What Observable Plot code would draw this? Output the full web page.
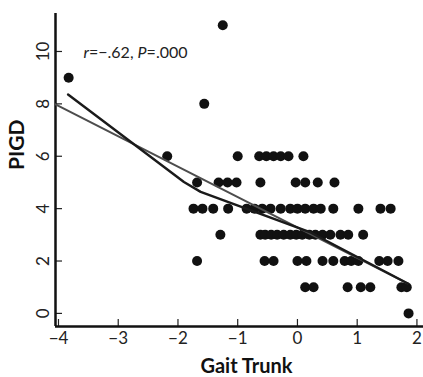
<!DOCTYPE html>
<html><head><meta charset="utf-8">
<script src="https://cdn.jsdelivr.net/npm/d3@7"></script>
<script src="https://cdn.jsdelivr.net/npm/@observablehq/plot@0.6"></script>
<style>
body{margin:0;background:#fff;}
#chart svg{font-family:Lato,"Open Sans",sans-serif;background:#fff;}
</style>
</head><body><div id="chart"></div>
<script>
// Scatter data: Gait Trunk (x) and PIGD (y)
const gaitTrunk = [
  -1.25,
  -3.83,
  -1.56,
  -2.18, -1.0, -0.64, -0.52, -0.40, -0.28, -0.15, 0.10,
  -1.68, -1.32, -1.17, -1.02, -0.62, -0.03, 0.13, 0.34, 0.62,
  -1.74, -1.59, -1.41, -1.16, -0.85, -0.72, -0.59, -0.45, -0.28, -0.12, 0.0, 0.13, 0.27, 0.39, 0.60, 1.02, 1.39, 1.56,
  -1.29, -0.62, -0.54, -0.44, -0.34, -0.23, -0.12, -0.02, 0.08, 0.20, 0.30, 0.42, 0.55, 0.72, 0.85, 1.10,
  -1.68, -0.55, -0.40, 0.0, 0.15, 0.42, 0.60, 0.79, 0.90, 1.02, 1.37, 1.51, 1.69,
  0.13, 0.27, 0.84, 1.06, 1.22, 1.74, 1.83,
  1.86
];
const pigd = [
  11,
  9,
  8,
  6, 6, 6, 6, 6, 6, 6, 6,
  5, 5, 5, 5, 5, 5, 5, 5, 5,
  4, 4, 4, 4, 4, 4, 4, 4, 4, 4, 4, 4, 4, 4, 4, 4, 4, 4,
  3, 3, 3, 3, 3, 3, 3, 3, 3, 3, 3, 3, 3, 3, 3, 3,
  2, 2, 2, 2, 2, 2, 2, 2, 2, 2, 2, 2, 2,
  1, 1, 1, 1, 1, 1, 1,
  0
];
// Linear fit line
const fitX = [-4.05, 1.84];
const fitY = [7.98, 1.15];
// Smoothed (loess-like) line
const smoothX = [-3.84, -1.9, -1.62, 0.22, 1.84];
const smoothY = [8.36, 5.02, 4.64, 3.09, 1.15];
// Axis ticks
const xTicks = [-4, -3, -2, -1, 0, 1, 2];
const yTicks = [0, 2, 4, 6, 8, 10];
const xDomain = [-4.05, 2.11];
const yDomain = [-0.5, 11.45];
const xLabel = "Gait Trunk";
const yLabel = "PIGD";
const statText = "r=−.62, P=.000";

const points = gaitTrunk.map((x, i) => ({x, y: pigd[i]}));
const fit = fitX.map((x, i) => ({x, y: fitY[i]}));
const smooth = smoothX.map((x, i) => ({x, y: smoothY[i]}));

const W = 423, H = 377, mL = 55, mR = 0, mT = 13, mB = 51;
const plotW = W - mL - mR, plotH = H - mT - mB;

const chart = Plot.plot({
  width: W, height: H,
  marginLeft: mL, marginRight: mR, marginTop: mT, marginBottom: mB,
  x: {domain: xDomain},
  y: {domain: yDomain, axis: null},
  marks: [
    Plot.axisX(xTicks, {tickSize: 0, tickPadding: 5, fontSize: 17, label: null, color: "#222"}),
    Plot.text(yTicks, {y: d => d, text: d => String(d), frameAnchor: "left", dx: -12, rotate: -90, fontSize: 17, fill: "#222", textAnchor: "middle", lineAnchor: "middle"}),
    Plot.tickX(xTicks, {x: d => d, insetTop: plotH - 7, stroke: "#222", strokeWidth: 1.2}),
    Plot.tickY(yTicks, {y: d => d, insetRight: plotW - 7, stroke: "#222", strokeWidth: 1.2}),
    Plot.ruleX([xDomain[0]], {stroke: "#111", strokeWidth: 2.5}),
    Plot.ruleY([yDomain[0]], {stroke: "#111", strokeWidth: 2.5}),
    Plot.dot(points, {x: "x", y: "y", r: 5, fill: "#111", stroke: "none"}),
    Plot.line(fit, {x: "x", y: "y", stroke: "#4d4d4d", strokeWidth: 2}),
    Plot.line(smooth, {x: "x", y: "y", stroke: "#1a1a1a", strokeWidth: 2.4}),
    Plot.text([statText], {text: d => d, frameAnchor: "top-left", dx: 28, dy: 39, fontSize: 16, fill: "#222", textAnchor: "start", lineAnchor: "middle", className: "stat"}),
    Plot.text([xLabel], {text: d => d, frameAnchor: "bottom", dx: 7, dy: 40, fontSize: 20, fontWeight: "bold", fill: "#111", lineAnchor: "middle"}),
    Plot.text([yLabel], {text: d => d, frameAnchor: "left", dx: -38, rotate: -90, fontSize: 21, fontWeight: "bold", fill: "#111", lineAnchor: "middle"})
  ]
});
document.getElementById("chart").appendChild(chart);
// italicize r and P in the statistic label
chart.querySelectorAll("g.stat text").forEach(t => {
  const s = t.textContent;
  const m = s.match(/^(r)(=.*, )(P)(=.*)$/);
  if (m) {
    t.textContent = "";
    const ns = "http://www.w3.org/2000/svg";
    [[m[1], true], [m[2], false], [m[3], true], [m[4], false]].forEach(([str, it]) => {
      const ts = document.createElementNS(ns, "tspan");
      ts.textContent = str;
      if (it) ts.setAttribute("font-style", "italic");
      t.appendChild(ts);
    });
  }
});
</script>
</body></html>
